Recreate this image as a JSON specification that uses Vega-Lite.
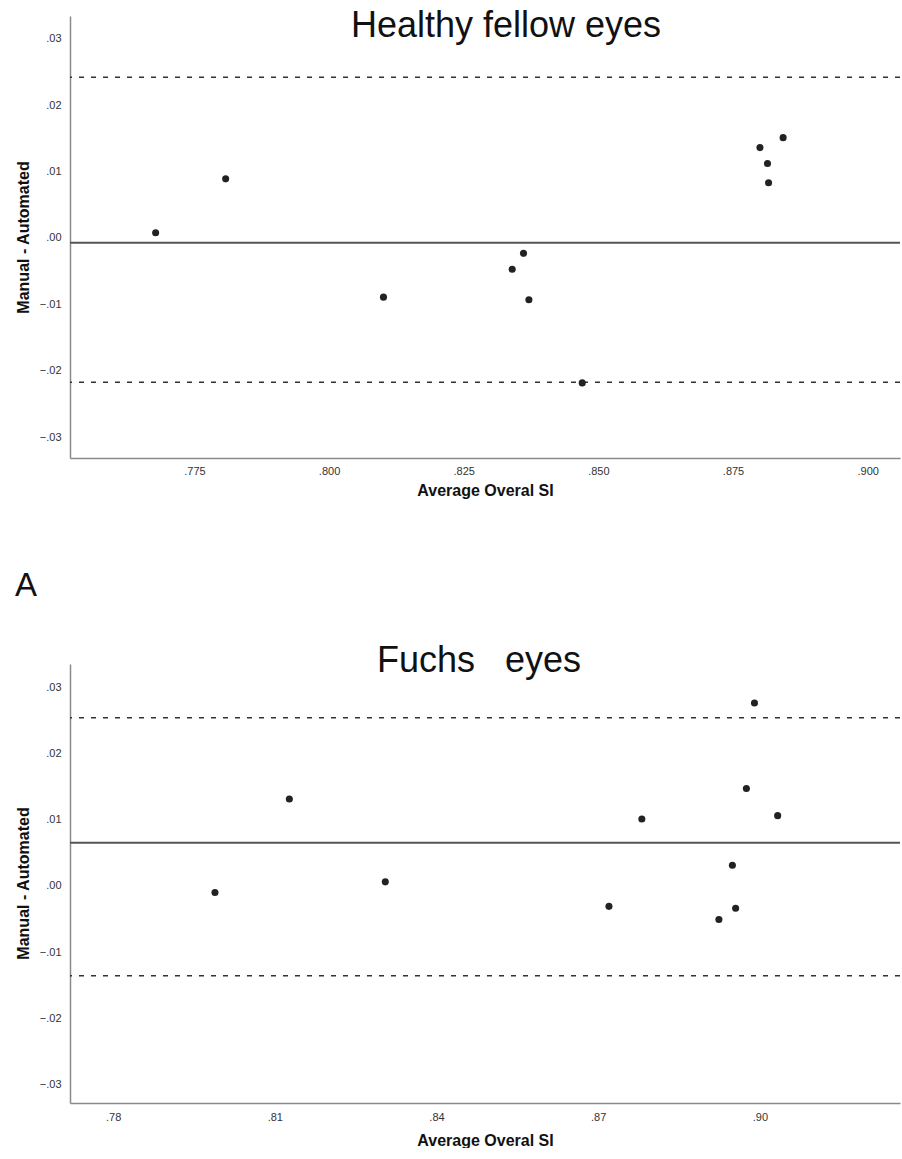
{
  "$schema": "https://vega.github.io/schema/vega-lite/v6.json",
  "padding": {"left": 15, "top": 8, "right": 0, "bottom": 0},
  "background": "white",
  "datasets": {
    "healthy": [
      {"avg": 0.7678, "diff": 0.0008},
      {"avg": 0.7808, "diff": 0.0089},
      {"avg": 0.8101, "diff": -0.0089},
      {"avg": 0.8340, "diff": -0.0047},
      {"avg": 0.8361, "diff": -0.0023},
      {"avg": 0.8371, "diff": -0.0093},
      {"avg": 0.8470, "diff": -0.0218},
      {"avg": 0.8800, "diff": 0.0136},
      {"avg": 0.8814, "diff": 0.0112},
      {"avg": 0.8816, "diff": 0.0083},
      {"avg": 0.8843, "diff": 0.0151}
    ],
    "healthyLimits": [{"diff": 0.0242}, {"diff": -0.0217}],
    "healthyMean": [{"diff": -0.0007}],
    "fuchs": [
      {"avg": 0.7989, "diff": -0.0010},
      {"avg": 0.8127, "diff": 0.0131},
      {"avg": 0.8305, "diff": 0.0006},
      {"avg": 0.8720, "diff": -0.0031},
      {"avg": 0.8781, "diff": 0.0101},
      {"avg": 0.8924, "diff": -0.0051},
      {"avg": 0.8949, "diff": 0.0031},
      {"avg": 0.8955, "diff": -0.0034},
      {"avg": 0.8975, "diff": 0.0147},
      {"avg": 0.8990, "diff": 0.0276},
      {"avg": 0.9033, "diff": 0.0106}
    ],
    "fuchsLimits": [{"diff": 0.0254}, {"diff": -0.0136}],
    "fuchsMean": [{"diff": 0.0065}]
  },
  "config": {
    "view": {"stroke": null},
    "axis": {
      "grid": false,
      "ticks": false,
      "domainColor": "#8a8a8a",
      "domainWidth": 1.5,
      "labelFont": "Liberation Sans",
      "labelFontSize": 11,
      "labelColor": "#333333",
      "titleFont": "Liberation Sans",
      "titleFontSize": 16,
      "titleFontWeight": "bold",
      "titleColor": "#111111"
    },
    "title": {"font": "Liberation Sans", "fontSize": 36, "fontWeight": "normal", "color": "#111111"}
  },
  "spacing": 72,
  "vconcat": [
    {
      "width": 830,
      "height": 442,
      "title": {"text": "Healthy fellow eyes", "baseline": "alphabetic", "offset": -57, "frame": "group", "dx": 21},
      "encoding": {
        "y": {
          "field": "diff",
          "type": "quantitative",
          "scale": {"domain": [-0.0331, 0.0334], "nice": false, "zero": false},
          "axis": {
            "values": [-0.03, -0.02, -0.01, 0, 0.01, 0.02, 0.03],
            "labelExpr": "replace(format(datum.value, '.2f'), '0.', '.')",
            "labelPadding": 9,
            "title": "Manual - Automated",
            "titleX": -47,
            "titleY": 221,
            "titleAlign": "center",
            "titleBaseline": "middle"
          }
        }
      },
      "layer": [
        {
          "data": {"name": "healthyLimits"},
          "mark": {"type": "rule", "strokeDash": [5, 7], "color": "#333333", "strokeWidth": 1.5}
        },
        {
          "data": {"name": "healthyMean"},
          "mark": {"type": "rule", "color": "#555555", "strokeWidth": 2}
        },
        {
          "data": {"name": "healthy"},
          "mark": {"type": "circle", "size": 50, "color": "#222222", "opacity": 1},
          "encoding": {
            "x": {
              "field": "avg",
              "type": "quantitative",
              "scale": {"domain": [0.7519, 0.9060], "nice": false, "zero": false},
              "axis": {
                "values": [0.775, 0.8, 0.825, 0.85, 0.875, 0.9],
                "labelExpr": "replace(format(datum.value, '.3f'), '0.', '.')",
                "labelPadding": 7,
                "title": "Average Overal SI",
                "titlePadding": 6
              }
            }
          }
        }
      ]
    },
    {
      "title": {"text": "A", "anchor": "start", "fontSize": 33, "fontWeight": "normal", "dx": 0, "offset": 40},
      "vconcat": [
        {
          "width": 830,
          "height": 439,
          "title": {"text": "Fuchs\u00a0\u00a0\u00a0eyes", "baseline": "alphabetic", "offset": -44, "frame": "group", "dx": -6},
          "encoding": {
            "y": {
              "field": "diff",
              "type": "quantitative",
              "scale": {"domain": [-0.0328, 0.0335], "nice": false, "zero": false},
              "axis": {
                "values": [-0.03, -0.02, -0.01, 0, 0.01, 0.02, 0.03],
                "labelExpr": "replace(format(datum.value, '.2f'), '0.', '.')",
                "labelPadding": 9,
                "title": "Manual - Automated",
                "titleX": -47,
                "titleY": 219,
                "titleAlign": "center",
                "titleBaseline": "middle"
              }
            }
          },
          "layer": [
            {
              "data": {"name": "fuchsLimits"},
              "mark": {"type": "rule", "strokeDash": [5, 7], "color": "#333333", "strokeWidth": 1.5}
            },
            {
              "data": {"name": "fuchsMean"},
              "mark": {"type": "rule", "color": "#555555", "strokeWidth": 2}
            },
            {
              "data": {"name": "fuchs"},
              "mark": {"type": "circle", "size": 50, "color": "#222222", "opacity": 1},
              "encoding": {
                "x": {
                  "field": "avg",
                  "type": "quantitative",
                  "scale": {"domain": [0.7720, 0.9260], "nice": false, "zero": false},
                  "axis": {
                    "values": [0.78, 0.81, 0.84, 0.87, 0.9],
                    "labelExpr": "replace(format(datum.value, '.2f'), '0.', '.')",
                    "labelPadding": 8,
                    "title": "Average Overal SI",
                    "titlePadding": 10
                  }
                }
              }
            }
          ]
        }
      ]
    }
  ]
}
